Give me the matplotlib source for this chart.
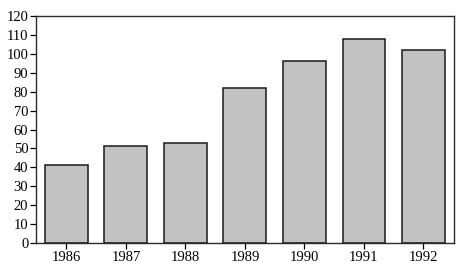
import matplotlib
matplotlib.use("Agg")
import matplotlib.pyplot as plt
import numpy as np

years = ["1986", "1987", "1988", "1989", "1990", "1991", "1992"]
values = [41, 51.5, 53, 82, 96, 108, 102]
yticks = list(range(0, 121, 10))

plt.rcParams['font.family'] = ['Liberation Serif', 'DejaVu Serif']

fig = plt.figure(figsize=(4.7, 2.74), dpi=100)
ax = fig.add_axes([0.0766, 0.1131, 0.889, 0.8285])
x = np.arange(len(years))
ax.bar(x, values, width=0.72, color='#c2c2c2', edgecolor='#1a1a1a', linewidth=1.1)
ax.set_xlim(-0.51, len(years) - 0.49)
ax.set_ylim(0, 120)
ax.set_yticks(yticks)
ax.set_xticks(x)
ax.set_xticklabels(years)
ax.tick_params(axis='both', labelsize=10.5, length=4, width=0.9, pad=1.5, colors='#000000')
for s in ax.spines.values():
    s.set_linewidth(1.0)
    s.set_color('#2a2a2a')
fig.savefig("out.png", dpi=100)
